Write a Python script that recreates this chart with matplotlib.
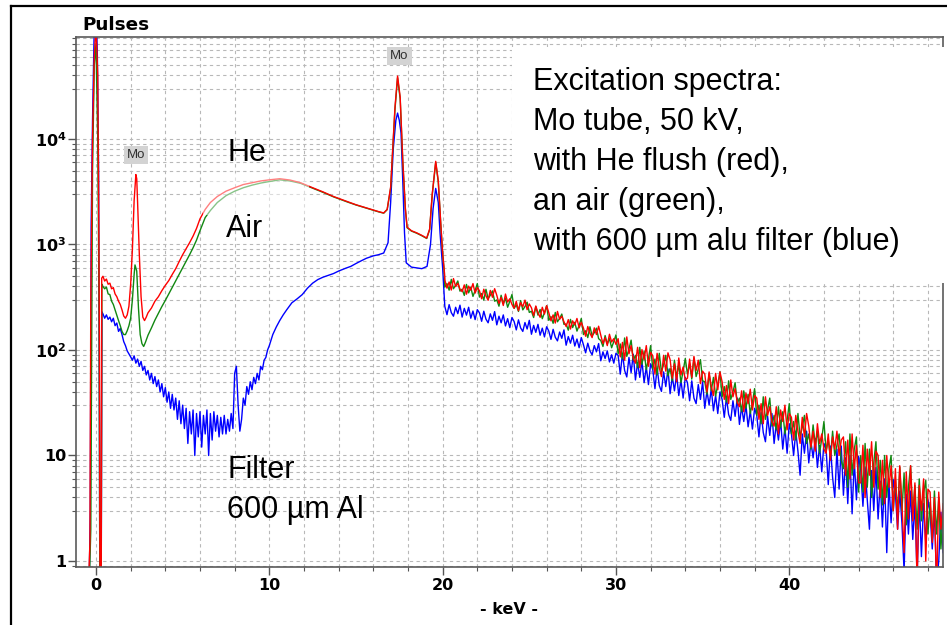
import numpy as np
import matplotlib
matplotlib.use('Agg')
import matplotlib.pyplot as plt
from matplotlib.patches import Rectangle
from matplotlib.lines import Line2D
from matplotlib.ticker import MultipleLocator, LogLocator, NullFormatter

plt.rcParams['mathtext.fontset'] = 'dejavusans'

# --- spectra: energy (keV) and pulses ---
# He flush (red)
he_kev = [-1.15, -0.45, -0.35, -0.3, -0.25, -0.2, -0.1, 0.0, 0.1, 0.15, 0.2, 0.23, 0.3, 0.33,
          0.4, 0.5, 0.6, 0.7, 0.8, 0.9, 1.0, 1.1, 1.2, 1.3, 1.4, 1.5, 1.6, 1.7, 1.8, 1.9,
          2.0, 2.1, 2.2, 2.3, 2.35, 2.4, 2.5, 2.6, 2.7, 2.8, 2.9, 3.0,
          3.2, 3.4, 3.6, 3.8, 4.0, 4.2, 4.4, 4.6, 4.8, 5.0, 5.2, 5.4, 5.6, 5.8, 6.0,
          6.3, 6.6, 7.0, 7.5, 8.0, 8.5, 9.0, 9.5, 10.0, 10.6, 11.2, 11.8, 12.5, 13.1, 13.7,
          14.5, 15.0, 15.6, 16.0, 16.3, 16.6, 16.8,
          17.0, 17.1, 17.25, 17.4, 17.55, 17.7, 17.85, 17.95,
          18.2, 18.5, 18.8, 19.08, 19.25, 19.4, 19.6, 19.75, 19.9, 20.0, 20.1]
he_low = [0.5, 0.5, 1.5, 300, 1800, 10000, 60000, 120000, 40000, 3000, 100, 0.5, 0.5, 480,
          500, 450, 470, 420, 430, 380, 390, 340, 320, 290, 270, 240, 210, 200, 215, 260,
          420, 900, 2600, 4600, 4200, 2500, 800, 320, 205, 190, 205, 225,
          250, 290, 320, 365, 410, 455, 520, 590, 690, 800, 910, 1040, 1200, 1420, 1750,
          2150, 2500, 2850, 3200, 3450, 3700, 3850, 4000, 4100, 4200, 4080, 3850, 3450, 3150, 2850,
          2550, 2380, 2220, 2120, 2050, 1990, 2150,
          3500, 7000, 20000, 39500, 25000, 6300, 2200, 1460,
          1350, 1290, 1220, 1150, 1400, 3000, 6140, 4000, 1500, 830, 550]

# air (green)
air_kev = [-1.15, -0.4, -0.3, -0.2, -0.1, 0.0, 0.1, 0.18, 0.22, 0.3, 0.34,
           0.4, 0.5, 0.6, 0.7, 0.8, 0.9, 1.0, 1.1, 1.2, 1.3, 1.4, 1.5, 1.6, 1.7, 1.8, 1.9,
           2.0, 2.1, 2.2, 2.25, 2.35, 2.45, 2.55, 2.65, 2.75, 2.85, 3.0,
           3.2, 3.4, 3.6, 3.8, 4.0, 4.2, 4.4, 4.6, 4.8, 5.0, 5.2, 5.4, 5.6, 5.8, 6.0,
           6.3, 6.6, 7.0, 7.5, 8.0, 8.5, 9.0, 9.5, 10.0, 10.6, 11.2, 11.8, 12.5, 13.1, 13.7,
           14.5, 15.0, 15.6, 16.0, 16.3, 16.6, 16.8,
           17.0, 17.1, 17.25, 17.4, 17.55, 17.7, 17.85, 17.95,
           18.2, 18.5, 18.8, 19.08, 19.25, 19.4, 19.6, 19.75, 19.9, 20.0, 20.1]
air_low = [0.5, 0.5, 2, 5000, 50000, 80000, 10000, 200, 0.5, 0.5, 420,
           400, 380, 395, 340, 335, 290, 270, 240, 215, 190, 170, 150, 140, 140, 152, 170,
           200, 300, 520, 640, 560, 250, 140, 115, 108, 118, 138,
           162, 192, 222, 258, 295, 340, 390, 450, 520, 600, 690, 800, 930, 1100, 1350,
           1800, 2100, 2500, 2900, 3200, 3450, 3650, 3820, 3950, 4100, 4000, 3800, 3420, 3120, 2830,
           2530, 2370, 2210, 2110, 2040, 1980, 2140,
           3400, 6800, 19000, 38000, 24000, 6100, 2150, 1440,
           1340, 1280, 1210, 1140, 1380, 2950, 6000, 3900, 1480, 820, 540]

# 600 um Al filter (blue)
alu_kev = [-1.15, -0.4, -0.33, -0.28, -0.2, -0.1, 0.0, 0.08, 0.15, 0.2, 0.22, 0.3, 0.34,
           0.4, 0.5, 0.6, 0.7, 0.8, 0.9, 1.0, 1.1, 1.2, 1.3, 1.4, 1.5, 1.6, 1.7, 1.8, 1.9,
           2.0, 2.1, 2.2, 2.3, 2.4, 2.5, 2.6, 2.7, 2.8, 2.9,
           3.0, 3.1, 3.2, 3.3, 3.4, 3.5, 3.6, 3.7, 3.8, 3.9,
           4.0, 4.1, 4.2, 4.3, 4.4, 4.5, 4.6, 4.7, 4.8, 4.9,
           5.0, 5.1, 5.2, 5.3, 5.4, 5.5, 5.6, 5.7, 5.8, 5.9,
           6.0, 6.1, 6.2, 6.3, 6.4, 6.5, 6.6, 6.7, 6.8, 6.9,
           7.0, 7.1, 7.2, 7.3, 7.4, 7.5, 7.6, 7.7, 7.8, 7.9,
           8.0, 8.1, 8.2, 8.3, 8.4, 8.5, 8.6, 8.7, 8.8, 8.9, 9.0,
           9.1, 9.2, 9.3, 9.4, 9.5, 9.6, 9.7, 9.8, 9.9, 10.0,
           10.2, 10.4, 10.6, 10.8, 11.0, 11.3, 11.6, 11.9, 12.2, 12.5, 12.8, 13.1,
           13.4, 13.7, 14.0, 14.4, 14.7, 15.0, 15.3, 15.6, 16.0, 16.3, 16.6, 16.85,
           17.0, 17.15, 17.3, 17.4, 17.5, 17.6, 17.7, 17.8, 17.9,
           18.2, 18.5, 18.8, 19.1, 19.3, 19.45, 19.6, 19.75, 19.85, 20.0, 20.1]
alu_low = [0.5, 0.5, 3, 1500, 15000, 120000, 200000, 60000, 5000, 20, 0.5, 0.5, 230,
           220, 200, 215, 195, 205, 185, 200, 170, 180, 150, 160, 140, 120, 110, 98, 92,
           86, 80, 88, 75, 82, 70, 78, 64, 70, 58,
           64, 52, 60, 48, 56, 45, 52, 40, 48, 36,
           44, 32, 40, 28, 38, 27, 35, 22, 33, 20,
           30, 18, 28, 13, 26, 16, 27, 10, 25, 15,
           26, 12, 24, 16, 27, 10, 25, 14, 26, 17,
           24, 15, 23, 16, 24, 16, 22, 17, 25, 18,
           60, 70, 30, 17, 22, 35, 30, 45, 38, 50, 42,
           55, 48, 60, 52, 70, 65, 80, 85, 100, 110,
           140, 165, 190, 215, 240, 280, 305, 335, 385, 430, 465, 490,
           510, 530, 560, 595, 620, 660, 700, 740, 780, 800, 830, 1040,
           2500, 8000, 15000, 17600, 15000, 11400, 4000, 1290, 670,
           610, 600, 590, 620, 1000, 2200, 3400, 2500, 1290, 600, 300]

# tails above 20 keV, eight channels per keV starting at 20.125 keV (one row per keV)
he_tail = [462, 386, 441, 370, 475, 399, 428, 378,
           357, 414, 338, 403, 369, 426, 346, 391,
           364, 306, 377, 326, 296, 367, 316, 381,
           330, 276, 315, 264, 339, 285, 306, 270,
           249, 289, 236, 281, 257, 297, 241, 273,
           251, 212, 261, 226, 204, 254, 219, 263,
           226, 189, 215, 180, 232, 195, 209, 185,
           167, 194, 158, 189, 173, 199, 162, 183,
           161, 135, 167, 144, 131, 162, 140, 168,
           138, 115, 131, 110, 141, 119, 128, 113,
           128, 86, 118, 80, 133, 92, 110, 83,
           75, 106, 68, 101, 81, 110, 70, 95,
           88, 59, 93, 68, 56, 89, 63, 94,
           81, 54, 74, 50, 84, 58, 69, 52,
           54, 82, 55, 87, 64, 80, 48, 63,
           59, 40, 62, 45, 37, 60, 42, 62,
           50, 34, 46, 31, 52, 36, 43, 32,
           29, 41, 26, 39, 31, 42.5, 27, 37,
           35, 22, 31, 20, 36, 24, 29, 21,
           19, 29, 16, 27, 21, 30, 17.5, 25,
           23, 14, 24, 17, 13, 23, 15, 25,
           19, 12, 17, 11, 20, 13, 16, 11.5,
           10.5, 16, 9, 15, 11.5, 17, 10, 14,
           15, 6.5, 14, 6, 16, 7.5, 12.5, 5.5,
           5.5, 12.5, 4, 11.5, 6.5, 13.5, 5, 11,
           10, 4, 9, 3.5, 10, 5, 8, 3,
           7.5, 2, 8, 3.5, 1.2, 7, 2.5, 8,
           2.4, 5.5, 0.6, 5.2, 3, 6, 1, 4.8,
           4.5, 1.5, 4, 0.5, 4.5, 2, 3.5]
air_tail = [394, 426, 369, 467, 381, 410, 451, 361,
            377, 329, 418, 348, 392, 322, 366, 426,
            317, 343, 297, 376, 307, 330, 363, 290,
            298, 260, 330, 274, 310, 254, 289, 336,
            248, 268, 232, 294, 240, 258, 284, 227,
            233, 203, 258, 214, 242, 198, 226, 262,
            191, 207, 179, 227, 185, 199, 219, 175,
            176, 154, 195, 163, 183, 151, 171, 199,
            140, 152, 131, 166, 136, 146, 161, 128,
            123, 108, 137, 114, 128, 105, 120, 139,
            92, 114, 82, 130, 87, 102, 124, 80,
            89, 68, 106, 73, 97, 65, 83, 110,
            66, 82, 58, 93, 62, 73, 89, 57,
            67, 51, 80, 55, 73, 49, 63, 83,
            59, 74, 53, 84, 56, 66, 81, 51,
            50, 38, 60, 41, 55, 36.5, 47, 62,
            36, 45, 32, 51, 34, 40, 49, 31,
            35, 26, 41, 28, 38, 25, 32, 43,
            24, 30, 20, 36, 22, 27, 35, 19,
            24, 17.5, 29, 18.5, 26, 16, 21.5, 31,
            16, 21, 14, 25, 15, 18.5, 24, 13,
            16, 11.5, 19.5, 12.5, 17, 10.5, 14.5, 21,
            11, 14, 9.5, 17, 10, 12.5, 16, 9,
            7.5, 13.5, 5, 16, 6.5, 11.5, 15, 4.5,
            10, 4.5, 13, 5, 11.5, 4, 8.5, 13.5,
            4.8, 9, 3.4, 10, 4, 7.5, 10, 3,
            6, 2.8, 7.8, 3, 6.8, 2.2, 5, 8,
            2.8, 5.2, 2, 6, 2.4, 4.4, 5.8, 1.8,
            3.6, 1.6, 4.6, 1.8, 4, 1.3, 3]
alu_tail = [259, 216, 269, 226, 209, 254, 221, 266,
            205, 248, 214, 254, 200, 234, 194, 241,
            225, 187, 233, 196, 181, 220, 191, 231,
            173, 209, 181, 215, 169, 198, 163, 203,
            186, 155, 193, 162, 150, 182, 158, 191,
            141, 171, 147, 175, 138, 161, 133, 166,
            151, 126, 157, 132, 122, 148, 129, 155,
            111, 134, 116, 138, 109, 127, 105, 131,
            112, 94, 116, 98, 90, 110, 96, 115,
            79, 96, 83, 98, 77, 90, 75, 93,
            89, 59, 92.5, 64, 55.5, 85, 61, 91,
            52, 76, 55, 79, 49, 69, 47, 74,
            65, 43, 67.5, 46, 40.5, 62, 45, 66,
            38.5, 56, 41, 59, 37, 52, 35, 55,
            49, 33, 51, 35, 31, 47, 34, 50,
            28, 41, 30, 43, 26.5, 37, 25, 40,
            34, 23, 35.5, 24.5, 21.5, 33, 23.5, 35,
            19.7, 29, 21, 30, 18.7, 26.4, 17.8, 28,
            24, 15, 25.5, 16.5, 13.5, 23.5, 15.5, 25,
            13, 20, 14, 21.5, 11.5, 18.5, 10.5, 20,
            16, 10, 17, 11, 6.5, 16, 10.5, 17,
            8.5, 13.5, 9.5, 14.5, 7.7, 12.5, 7, 13,
            11.5, 5.3, 12.3, 6.2, 4, 11.5, 4.8, 12.3,
            4.2, 9.5, 3.5, 10, 2.8, 9, 3.8, 9.8,
            7.2, 3.3, 7.7, 3.8, 2, 7.2, 3, 7.7,
            2.5, 5.7, 2.1, 6, 1.2, 5.5, 2.3, 5.9,
            4.3, 2, 4.6, 2.3, 0.8, 4.3, 1.8, 4.6,
            1.6, 3.6, 0.7, 3.9, 1.1, 3.5, 1.5, 3.8,
            2.9, 1.3, 3.1, 0.6, 1, 2.9, 1.2]

y_ticks = [1, 10, 100, 1000, 10000]
y_labels = ['1', '10', r'$\mathbf{10^2}$', r'$\mathbf{10^3}$', r'$\mathbf{10^4}$']
x_ticks = [0, 10, 20, 30, 40]

note_lines = ['Excitation spectra:', 'Mo tube, 50 kV,', 'with He flush (red),',
              'an air (green),', 'with 600 µm alu filter (blue)']

W, H = 947, 625
fig = plt.figure(figsize=(W / 100, H / 100), dpi=100)
ax = fig.add_axes([76 / W, 1 - 567 / H, (943 - 76) / W, (567 - 37) / H])


def fx(px):
    return px / W


def fy(py):
    return 1 - py / H


def full(kev, low, tail):
    tail_kev = 20.125 + 0.125 * np.arange(len(tail))
    return np.concatenate([kev, tail_kev]), np.concatenate([low, tail])


x, y = full(alu_kev, alu_low, alu_tail)
ax.plot(x, y, color='#0000ff', lw=1.0)
x, y = full(air_kev, air_low, air_tail)
ax.plot(x, y, color='#118811', lw=1.0)
x, y = full(he_kev, he_low, he_tail)
ax.plot(x, y, color='#ff0000', lw=1.0)

# faded stretch of the He / air curves
ax.add_patch(Rectangle((6.2, 1900), 6.1, 2900, fc='white', ec='none', alpha=0.5, zorder=3))

ax.set_yscale('log')
ax.set_xlim(-1.154, 48.87)
ax.set_ylim(0.877, 92600)

ax.set_yticks(y_ticks, y_labels, fontweight='bold', fontsize=11.5)
ax.yaxis.set_minor_locator(LogLocator(base=10, subs=(3, 4, 5, 6, 7, 8, 9)))
ax.yaxis.set_minor_formatter(NullFormatter())
ax.set_xticks(x_ticks, [str(t) for t in x_ticks], fontweight='bold', fontsize=11.5)
ax.xaxis.set_minor_locator(MultipleLocator(2))

ax.set_axisbelow(True)
ax.grid(True, which='both', color='#b8b8b8', ls=(0, (3, 3)), lw=0.8)
ax.tick_params(which='major', length=6, width=1, color='#555555', pad=2)
ax.tick_params(which='minor', length=3, width=0.8, color='#555555')
ax.tick_params(axis='y', pad=1)
for s in ax.spines.values():
    s.set_color('#5a5a5a')
    s.set_linewidth(1.2)

# white box holding the description
ax.add_patch(Rectangle((0.503, 0.536), 0.52, 0.445, transform=ax.transAxes,
                       fc='white', ec='none', zorder=5, clip_on=False))
for i, line in enumerate(note_lines):
    fig.text(fx(533), fy(90 + 40 * i), line, fontsize=22, family='Liberation Sans',
             va='baseline', ha='left')

fig.text(fx(227), fy(161), 'He', fontsize=22, family='Liberation Sans', va='baseline')
fig.text(fx(226), fy(237), 'Air', fontsize=22, family='Liberation Sans', va='baseline')
fig.text(fx(227), fy(478), 'Filter', fontsize=22, family='Liberation Sans', va='baseline')
fig.text(fx(227), fy(518), '600 µm Al', fontsize=22, family='Liberation Sans', va='baseline')

for cx, cy in [(136, 155), (399.5, 56)]:
    fig.text(fx(cx), fy(cy), 'Mo', fontsize=9.5, family='Liberation Sans', color='#303030',
             ha='center', va='center',
             bbox=dict(boxstyle='square,pad=0.22', fc='#d3d3d3', ec='none'))

fig.text(fx(82), fy(30.5), 'Pulses', fontsize=13.2, fontweight='bold', va='baseline')
fig.text(fx(509), fy(614), '- keV -', fontsize=11.5, fontweight='bold', ha='center', va='baseline')

# outer frame of the screenshot
fig.add_artist(Line2D([fx(11), fx(11)], [fy(5.5), 0], color='black', lw=1.6))
fig.add_artist(Line2D([fx(11), 1], [fy(5.5), fy(5.5)], color='black', lw=1.6))

fig.savefig('out.png', dpi=100)
